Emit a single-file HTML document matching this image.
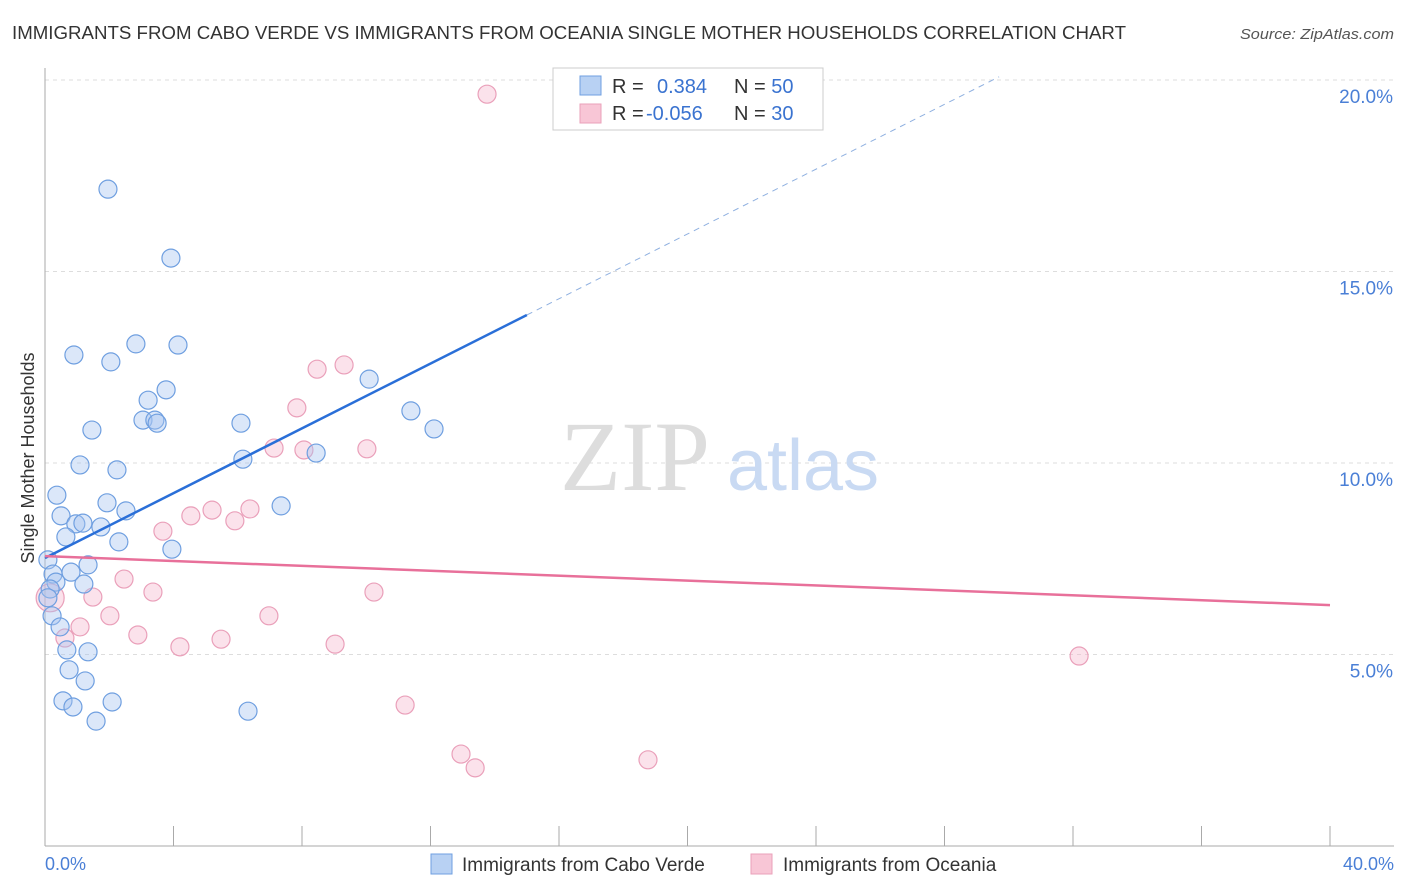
<!DOCTYPE html>
<html><head><meta charset="utf-8"><style>
body{margin:0;background:#fff;font-family:"Liberation Sans",sans-serif;}
svg{display:block}
</style></head><body>
<svg id="chart" width="1406" height="892">
<text x="12" y="39" font-size="18" fill="#333" textLength="1114" lengthAdjust="spacingAndGlyphs">IMMIGRANTS FROM CABO VERDE VS IMMIGRANTS FROM OCEANIA SINGLE MOTHER HOUSEHOLDS CORRELATION CHART</text>
<text x="1240" y="39" font-size="15" fill="#555" font-style="italic" textLength="154" lengthAdjust="spacingAndGlyphs">Source: ZipAtlas.com</text>
<g id="grid"></g>
<text x="635" y="490" font-size="100" fill="#ddd" font-family="Liberation Serif" text-anchor="middle">ZIP</text>
<text x="803" y="490" font-size="72" fill="#c9daf3" text-anchor="middle">atlas</text>
<g id="marks"></g>
<text transform="translate(34,458) rotate(-90)" font-size="18" fill="#333" text-anchor="middle">Single Mother Households</text>
<text x="45" y="870" font-size="18" fill="#4a7fd6">0.0%</text>
<text x="1394" y="870" font-size="18" fill="#4a7fd6" text-anchor="end">40.0%</text>
<g>
<rect x="553" y="68" width="270" height="62" fill="#fff" stroke="#ccc"/>
<rect x="580" y="76" width="21" height="19" fill="#b8d1f3" stroke="#6f9fe0"/>
<rect x="580" y="104" width="21" height="19" fill="#f8c6d6" stroke="#eaa0ba"/>
<text x="612" y="93" font-size="20" fill="#333">R = <tspan x="657" fill="#3a73d0">0.384</tspan><tspan x="734" fill="#333">N = </tspan><tspan fill="#3a73d0">50</tspan></text>
<text x="612" y="120" font-size="20" fill="#333">R = <tspan x="646" fill="#3a73d0">-0.056</tspan><tspan x="734" fill="#333">N = </tspan><tspan fill="#3a73d0">30</tspan></text>
</g>
<g>
<rect x="431" y="854" width="21" height="20" fill="#b8d1f3" stroke="#6f9fe0"/>
<text x="462" y="871" font-size="19" fill="#333">Immigrants from Cabo Verde</text>
<rect x="751" y="854" width="21" height="20" fill="#f8c6d6" stroke="#eaa0ba"/>
<text x="783" y="871" font-size="19" fill="#333">Immigrants from Oceania</text>
</g>
</svg>
<script>
const yTicks=[5,10,15,20];
const blueX=[1.96,3.92,0.90,2.05,2.83,4.14,3.77,3.21,3.05,3.42,3.49,1.46,6.10,10.09,11.39,12.11,1.09,2.24,6.16,8.44,0.37,1.93,7.35,0.50,2.52,0.96,1.18,1.74,0.65,2.30,3.95,0.09,0.25,1.34,0.81,0.34,1.21,0.16,0.09,0.22,0.47,1.34,0.68,0.75,1.25,0.56,0.87,2.09,1.59,6.32];
const blueY=[17.15,15.35,12.82,12.64,13.11,13.08,11.91,11.64,11.12,11.12,11.04,10.86,11.04,12.19,11.36,10.89,9.95,9.82,10.10,10.26,9.16,8.96,8.88,8.62,8.75,8.41,8.43,8.33,8.07,7.94,7.75,7.47,7.10,7.34,7.15,6.89,6.84,6.71,6.48,6.01,5.72,5.07,5.12,4.60,4.31,3.79,3.63,3.76,3.26,3.52];
const pinkX=[13.76,8.47,9.31,7.84,7.13,8.06,10.02,3.67,4.54,5.20,5.91,6.38,2.46,3.36,1.49,10.24,0.16,2.02,6.97,1.09,2.89,0.62,5.48,4.20,9.03,32.19,11.21,12.95,13.39,18.77];
const pinkY=[19.63,12.45,12.56,11.44,10.39,10.34,10.37,8.22,8.62,8.77,8.49,8.80,6.97,6.63,6.50,6.63,6.48,6.01,6.01,5.72,5.51,5.43,5.40,5.20,5.27,4.96,3.68,2.40,2.04,2.25];
const blueTrend=[7.52,0.423];
const pinkTrend=[7.57,-0.032];
const NS='http://www.w3.org/2000/svg';
const sx=v=>45+v*32.125, sy=v=>846-v*38.3;
function mk(t,a,p){const e=document.createElementNS(NS,t);for(const k in a)e.setAttribute(k,a[k]);p.appendChild(e);return e;}
const grid=document.getElementById('grid'), marks=document.getElementById('marks');
yTicks.forEach(v=>{
 const l=mk('line',{x1:45,x2:1394,y1:sy(v),y2:sy(v),stroke:'#ddd','stroke-dasharray':'4,4'},grid);
 
 
 const t=mk('text',{x:1393,y:sy(v)+23,'font-size':19,fill:'#4a7fd6','text-anchor':'end'},grid);
 t.textContent=v.toFixed(1)+'%';
 
 
});
const ax=mk('line',{x1:45,x2:45,y1:68,y2:846,stroke:'#aaa'},grid);


const xa=mk('line',{x1:45,x2:1394,y1:846,y2:846,stroke:'#aaa'},grid);


for(let i=0;i<=10;i++){const tk=mk('line',{x1:sx(i*4),x2:sx(i*4),y1:826,y2:846,stroke:'#aaa'},grid);
 
 }
pinkX.forEach((x,i)=>{const c=mk('circle',{cx:sx(x),cy:sy(pinkY[i]),r:i==16?14:9,fill:'rgba(244,182,204,0.4)',stroke:'#eaa0ba','stroke-width':1.2},marks);
 
 });
blueX.forEach((x,i)=>{const c=mk('circle',{cx:sx(x),cy:sy(blueY[i]),r:9,fill:'rgba(164,196,240,0.4)',stroke:'#6f9fe0','stroke-width':1.2},marks);
 
 });
const bl=mk('line',{x1:sx(0),y1:sy(blueTrend[0]),x2:sx(15),y2:sy(blueTrend[0]+15*blueTrend[1]),stroke:'#2a6fd8','stroke-width':2.5},marks);


const bd=mk('line',{x1:sx(15),y1:sy(blueTrend[0]+15*blueTrend[1]),x2:sx(29.7),y2:sy(blueTrend[0]+29.7*blueTrend[1]),stroke:'#8fb0e0','stroke-width':1,'stroke-dasharray':'6,5'},marks);


const pl=mk('line',{x1:sx(0),y1:sy(pinkTrend[0]),x2:sx(40),y2:sy(pinkTrend[0]+40*pinkTrend[1]),stroke:'#e8709a','stroke-width':2.5},marks);


</script>
</body></html>
